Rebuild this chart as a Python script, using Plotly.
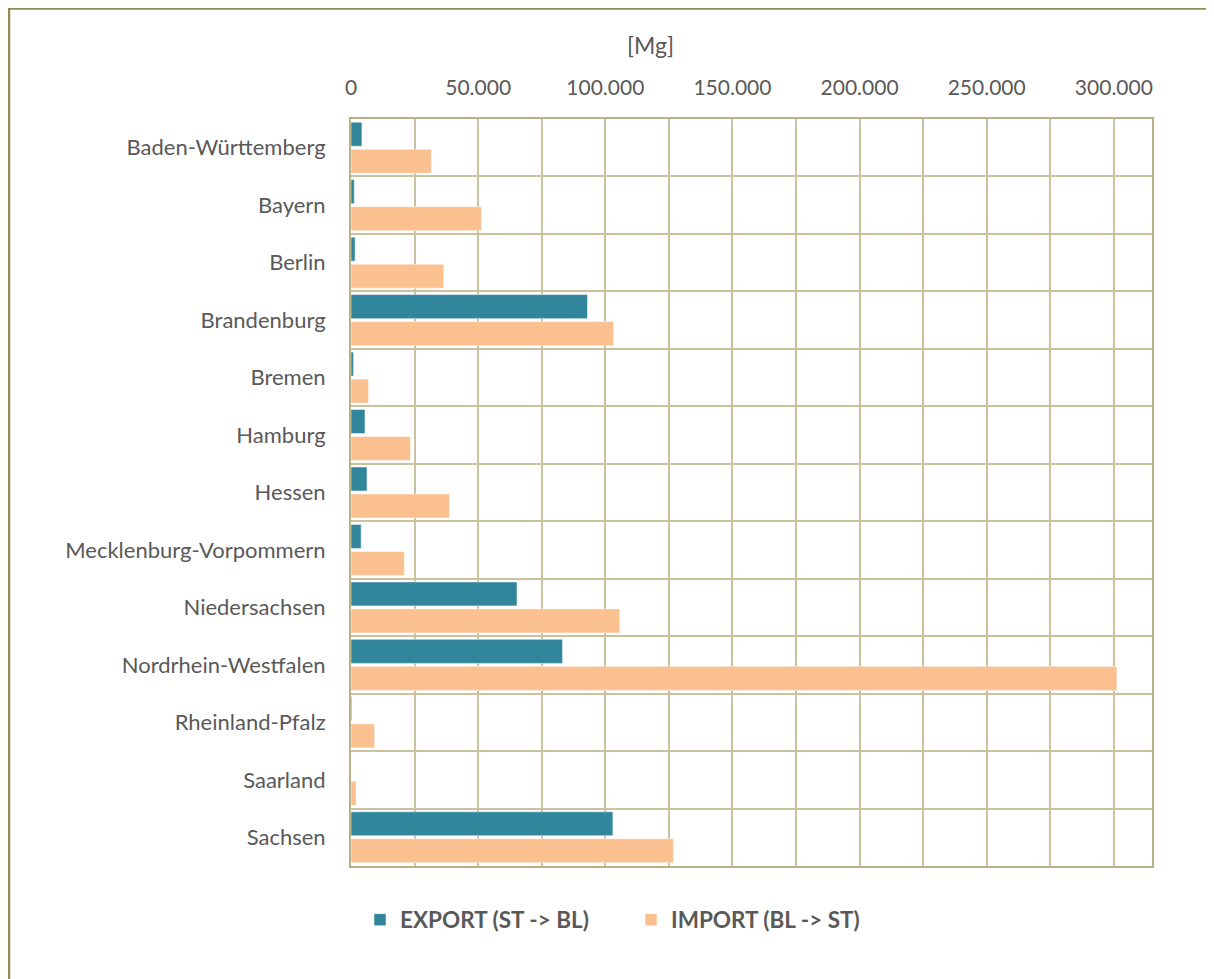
import plotly.graph_objects as go

# Bundesländer, oben nach unten
laender = ["Baden-Württemberg", "Bayern", "Berlin", "Brandenburg", "Bremen", "Hamburg",
           "Hessen", "Mecklenburg-Vorpommern", "Niedersachsen", "Nordrhein-Westfalen",
           "Rheinland-Pfalz", "Saarland", "Sachsen"]
export_mg = [4300, 1300, 1600, 93000, 1000, 5500, 6300, 4000, 65300, 83200, 300, 0, 103000]
import_mg = [31600, 51300, 36500, 103300, 6900, 23400, 38700, 21000, 105700, 301200, 9300, 2000, 126800]

grid = "#C9C19F"
txt = "#595959"

W, H = 1206, 971
L, T, R, B = 343, 111, 62, 113
pw, ph = W - L - R, H - T - B


def px(x):
    return (x - L) / pw


def py(y):
    return (H - B - y) / ph


fig = go.Figure()
fig.add_trace(go.Bar(y=laender, x=export_mg, orientation="h", name="EXPORT (ST -> BL)",
                     marker=dict(color="#31869B", line=dict(color="rgba(255,255,255,0.5)", width=1))))
fig.add_trace(go.Bar(y=laender, x=import_mg, orientation="h", name="IMPORT (BL -> ST)",
                     marker=dict(color="#FAC090", line=dict(color="rgba(255,255,255,0.5)", width=1))))

fig.update_layout(
    width=W, height=H,
    barmode="group", bargap=0.06, bargroupgap=0.11,
    separators=",.",
    paper_bgcolor="white", plot_bgcolor="white",
    font=dict(family="Lato", size=22, color=txt),
    margin=dict(l=L, r=R, t=T, b=B),
    xaxis=dict(side="top", range=[0, 315000], dtick=50000, tickformat=",d",
               ticks="", ticklabelstandoff=14, showgrid=True, gridcolor=grid, gridwidth=2,
               tickfont=dict(size=21),
               minor=dict(dtick=25000, showgrid=True, gridcolor=grid, gridwidth=2),
               showline=True, linecolor="#B8B088", linewidth=2, mirror=True, zeroline=False),
    yaxis=dict(type="category", autorange="reversed", tickson="boundaries", ticks="",
               showgrid=True, gridcolor=grid, gridwidth=2, ticklabelstandoff=19,
               showline=True, linecolor="#B8B088", linewidth=2, mirror=True),
    legend=dict(orientation="h", x=px(352), xanchor="left", y=py(912), yanchor="middle",
                font=dict(size=22.5, color=txt, family="Lato", weight="bold"),
                entrywidth=226, entrywidthmode="pixels",
                itemwidth=30, traceorder="normal"),
    showlegend=True,
)

fig.add_annotation(text="[Mg]", xref="paper", yref="paper", x=px(642), y=py(37),
                   showarrow=False, font=dict(size=23, color=txt), xanchor="center", yanchor="middle")

# äußerer Rahmen
fig.add_shape(type="rect", xref="paper", yref="paper",
              x0=px(1), x1=px(W + 40), y0=py(H + 40), y1=py(0.5),
              line=dict(color="#948A54", width=2.5), layer="below")

fig.write_html("out.html")
